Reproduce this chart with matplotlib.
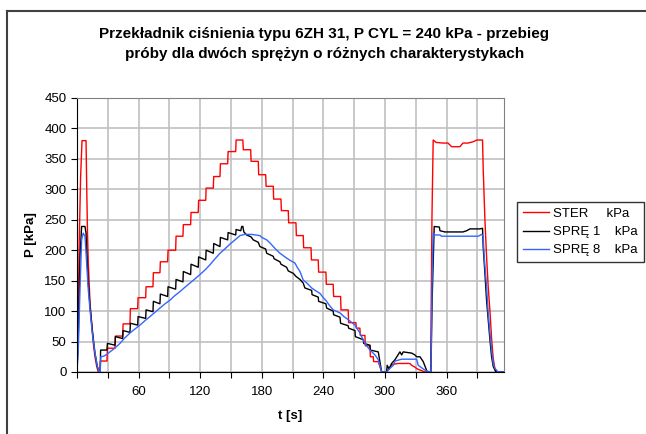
import matplotlib
matplotlib.use("Agg")
import matplotlib.pyplot as plt
from matplotlib.lines import Line2D

plt.rcParams['font.family'] = ['Liberation Sans', 'DejaVu Sans']

# time [s] / pressure [kPa]
ster_t = [0, 1, 2, 3.5, 4.9, 8.8, 9.5, 10.2, 11, 12.7, 14.3, 15.9, 17.5, 19.2, 20.7, 22.4, 22.8,
          29.2, 29.6, 37, 37.4, 44.5, 44.9, 51.6, 52, 59.1, 59.5, 66.9, 67.3, 74, 74.4, 80.8, 81.2,
          88.3, 88.7, 96.1, 96.5, 103.2, 103.6, 110.7, 111.1, 118.1, 118.5, 125.4, 125.8, 132.8, 133.2,
          139.3, 139.7, 146.8, 147.2, 154.6, 155, 161.6, 162, 169.2, 169.6, 176.6, 177, 183.8, 184.2,
          191.2, 191.6, 198.7, 199.1, 205.8, 206.2, 213.3, 213.7, 220.4, 220.8, 228, 228.4, 235, 235.4,
          242.5, 242.9, 249.6, 250, 256.8, 257.2, 264.2, 264.6, 271.7, 272.1, 275.6, 276, 280.5, 280.9,
          285.4, 285.8, 288.6, 289, 293.5, 296.8, 301.6, 304.9, 306.5, 312.7, 324.3, 326, 329.2, 331.5,
          339, 344.5, 345.8, 347, 350, 356.5, 361.4, 365, 373, 376, 380.8, 385.7, 389.6, 395.1, 395.7,
          397.4, 399, 400.6, 402.3, 403.9, 405.5, 407.1, 408.5, 416]
ster_p = [0, 60, 200, 320, 380, 380, 300, 230, 180, 113, 80, 47, 25, 9, 0, 0, 18,
          18, 39, 39, 59, 59, 79, 79, 104, 104, 122, 122, 140, 140, 163, 163, 181,
          181, 200, 200, 223, 223, 242, 242, 262, 262, 282, 282, 302, 302, 321,
          321, 342, 342, 362, 362, 381, 381, 365, 365, 346, 346, 324, 324, 305,
          305, 284, 284, 265, 265, 245, 245, 224, 224, 204, 204, 184, 184, 164,
          164, 144, 144, 124, 124, 102, 102, 81, 81, 72, 72, 60, 60, 43,
          43, 25, 25, 17, 17, 0, 0, 8, 12, 14, 14, 11, 8, 5,
          0, 0, 253, 381, 377, 376, 376, 370, 370, 376, 376, 378, 381, 381, 335,
          250, 190, 140, 100, 55, 22, 6, 0, 0]

spr1_t = [0, 1.3, 2.9, 4.5, 7.8, 8.8, 10, 11, 12.7, 14.9, 17.5, 19.8, 21.7, 22.6, 23, 29.2,
          29.6, 37, 37.4, 44.5, 44.9, 51.6, 52, 59.1, 59.5, 66.9, 67.3, 74, 74.4, 80.8, 81.2, 88.3,
          88.7, 96.1, 96.5, 103.2, 103.6, 110.7, 111.1, 118.1, 118.5, 125.4, 125.8, 132.8, 133.2,
          139.3, 139.7, 146.8, 147.2, 154.6, 155, 159.5, 160.5, 161.6,
          162.5, 165.3, 169.5, 171.7, 176.6, 178.2, 183.8, 184.8, 191.2, 192, 197.7, 198.7, 204.2,
          205.8, 210.7, 213.3, 217.2, 220.4, 222, 228.6, 229, 235, 235.4, 242.5, 243.2, 249.6, 250,
          256.2, 256.8, 264.2, 264.6, 270.8, 271.2, 278.9, 279.3, 285.4, 285.8, 293.5, 296.8, 301.6,
          302.2, 304, 306.5, 309.7, 314.6, 316.3, 317.8, 326, 329.2, 330.9, 334.1, 337.3, 341.2,
          344.8, 346, 348, 353, 353.6, 358.4, 376, 379.6, 382.8, 392.5, 395.1, 395.7, 397.4, 399,
          400.6, 402.3, 403.9, 405.5, 408.1, 416]
spr1_p = [0, 60, 190, 239, 239, 228, 179, 146, 107, 69, 31, 9, 0, 0, 36, 36,
          47, 44, 58, 55, 68, 65, 80, 77, 91, 88, 102, 99, 116, 112, 128, 124,
          140, 136, 152, 148, 165, 160, 177, 172, 189, 184, 200, 195, 211,
          206, 221, 217, 229, 225, 234, 232, 239, 239,
          230, 225, 222, 217, 213, 206, 202, 195, 190, 186, 181, 177, 172,
          166, 162, 157, 152, 146, 138, 134, 127, 123, 116, 112, 105, 100, 94,
          90, 80, 76, 72, 68, 58, 53, 47, 44, 36, 33, 0, 0,
          11, 5, 14, 20, 33, 28, 33, 31, 28, 25, 25, 17, 0,
          0, 120, 239, 238, 232, 230, 230, 232, 235, 235, 236, 206, 162, 118,
          86, 53, 25, 9, 0, 0]

spr8_t = [0, 1.3, 2.9, 4.5, 6, 7.8, 9.4, 11, 12.7, 14.9, 17.5, 19.8, 21.7, 22.6, 23.2, 26,
          29.2, 32.1, 36, 41.9, 46, 51.6, 56, 61.4, 66, 71.1, 76, 80.8, 85, 90.6, 95, 100.3,
          105, 110, 115, 119.8, 125, 129.5, 134, 139.3, 144, 149, 154, 158.8, 163.6, 170, 178.2,
          180, 184.8, 188, 191.2, 194, 197.7, 201, 204.2, 208, 212.3, 214.5, 217.2, 220.4, 224,
          228.6, 232, 236.7, 240, 243.2, 246, 249.6, 256.2, 260, 264.2, 270.8, 275.6, 280.5,
          285.4, 290.3, 293.5, 296.8, 301.6, 304.9, 308.1, 310, 316.3, 330.9, 332.4, 339, 343.8,
          344.8, 345.8, 347, 348.7, 353.6, 355.2, 390.9, 394.2, 395.7, 396.7, 399, 400.6, 402.3,
          403.9, 405.5, 407.1, 410.3, 416]
spr8_p = [0, 40, 135, 217, 228, 223, 179, 135, 102, 64, 31, 9, 0, 0, 25, 26,
          29, 33, 38, 47, 55, 64, 70, 77, 84, 91, 98, 105, 111, 118, 125, 132,
          139, 146, 153, 160, 168, 176, 185, 195, 202, 210, 217, 224, 226, 226, 224,
          221, 217, 212, 206, 201, 195, 191, 187, 183, 179, 172, 165, 151, 146,
          138, 134, 129, 122, 116, 109, 102, 97, 91, 86, 77, 64, 47,
          36, 28, 20, 0, 0, 6, 11, 18, 21, 21, 11, 3, 0,
          0, 140, 228, 225, 225, 223, 223, 226, 223, 190, 140, 97, 64,
          36, 14, 6, 0, 0]

labels = ['STER     kPa', 'SPRĘ 1    kPa', 'SPRĘ 8    kPa']
colors = ['#ff0000', '#000000', '#3366ff']
xtick_vals = [0, 30, 60, 90, 120, 150, 180, 210, 240, 270, 300, 330, 360, 390]
xtick_text = ['', '', '60', '', '120', '', '180', '', '240', '', '300', '', '360', '']

fig = plt.figure(figsize=(6.46, 4.34), dpi=100)
ax = fig.add_axes([0.1192, 0.1429, 0.6610, 0.6313])

ax.plot(ster_t, ster_p, color=colors[0], lw=1.0, label=labels[0])
ax.plot(spr1_t, spr1_p, color=colors[1], lw=1.0, label=labels[1])
ax.plot(spr8_t, spr8_p, color=colors[2], lw=1.0, label=labels[2])

ax.set_xlim(0, 416)
ax.set_ylim(0, 450)
ax.set_yticks(range(0, 451, 50))
ax.set_xticks(xtick_vals)
ax.set_xticklabels(xtick_text)
ax.grid(True, color='#c0c0c0', lw=1.2)
ax.set_axisbelow(True)
for s in ['top', 'right']:
    ax.spines[s].set_color('#808080')
for s in ['left', 'bottom']:
    ax.spines[s].set_color('black')
ax.tick_params(direction='out', length=4, labelsize=9.5, colors='black')
ax.tick_params(axis='x', pad=6)

ax.set_ylabel('P [kPa]', fontsize=9.5, fontweight='bold', labelpad=5)
ax.set_xlabel('t [s]', fontsize=9.5, fontweight='bold', labelpad=9)

fig.text(0.502, 0.899, 'Przekładnik ciśnienia typu 6ZH 31, P CYL = 240 kPa - przebieg\n'
         'próby dla dwóch sprężyn o różnych charakterystykach',
         ha='center', va='center', fontsize=11, fontweight='bold', linespacing=1.5)

handles = [Line2D([], [], color=c, lw=1.0) for c in colors]
leg = fig.legend(handles, labels, loc='upper left', bbox_to_anchor=(0.800, 0.535),
                 fontsize=9.5, frameon=True, fancybox=False, handlelength=2.0,
                 handletextpad=0.3, borderpad=0.45, labelspacing=0.45, borderaxespad=0)
leg.get_frame().set_edgecolor('black')
leg.get_frame().set_linewidth(1.0)

# outer chart frame (only top and left edges are visible)
fig.add_artist(Line2D([7 / 646, 7 / 646], [0, 1 - 11 / 434], transform=fig.transFigure,
                      color='#404040', lw=1.5))
fig.add_artist(Line2D([7 / 646, 1], [1 - 11 / 434, 1 - 11 / 434], transform=fig.transFigure,
                      color='#404040', lw=1.5))

fig.savefig('out.png', dpi=100)
